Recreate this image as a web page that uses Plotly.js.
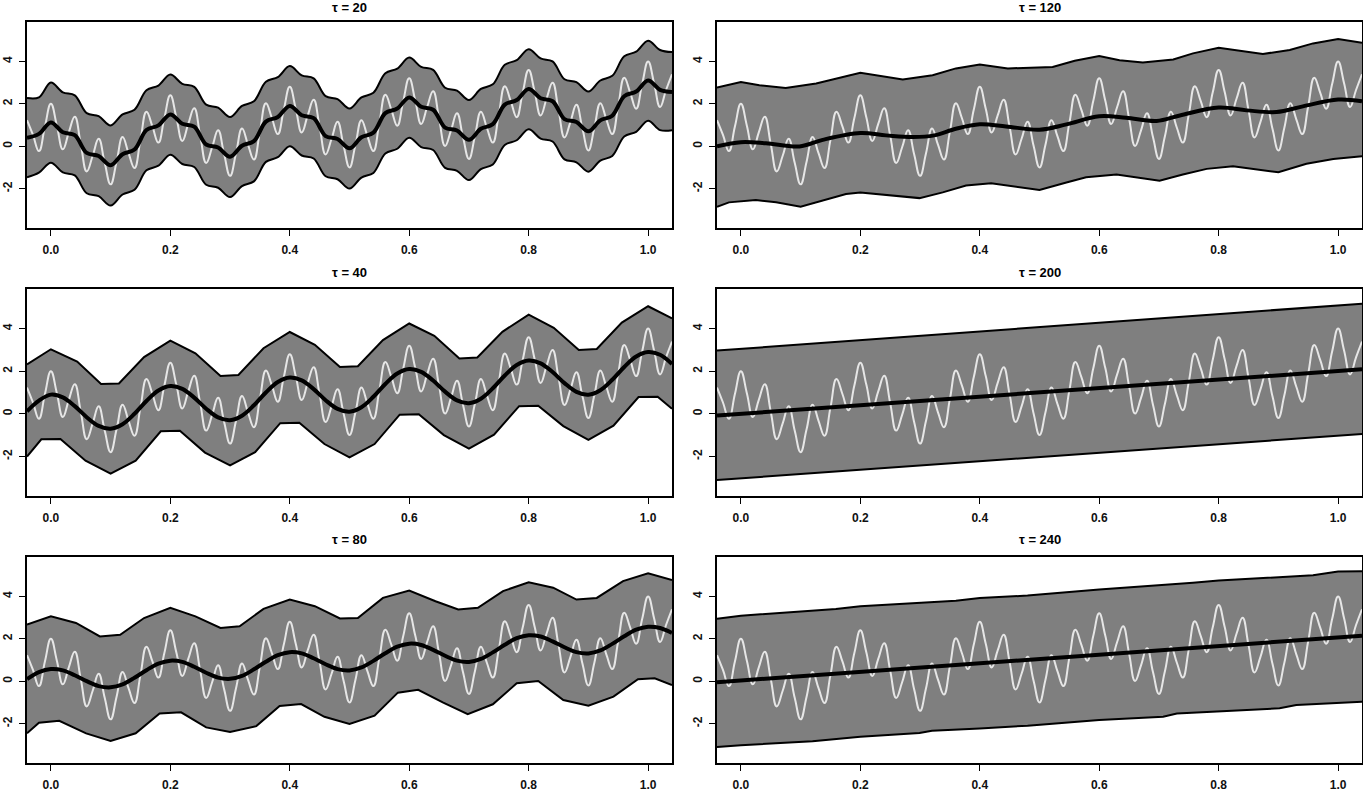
<!DOCTYPE html>
<html>
<head>
<meta charset="utf-8">
<script src="https://cdn.plot.ly/plotly-3.0.1.min.js"></script>
<style>html,body{margin:0;padding:0;background:#fff}#chart{width:1363px;height:791px}</style>
</head>
<body>
<div id="chart"></div>
<script>
// ---------- data ----------
const panelTitles = ["τ = 20", "τ = 120", "τ = 40", "τ = 200", "τ = 80", "τ = 240"];
const xTickVals = [0, 0.2, 0.4, 0.6, 0.8, 1.0];
const xTickText = ["0.0", "0.2", "0.4", "0.6", "0.8", "1.0"];
const yTickVals = [-2, 0, 2, 4];
const yTickText = ["-2", "0", "2", "4"];

// true signal (white curve), x from -0.04 to 1.04 in steps of 0.01
const truthY = [1.23, 0.53, -0.23, 0.93, 2.00, 0.97, -0.15, 0.65, 1.39, 0.10,
  -1.19, -0.45, 0.35, -0.77, -1.80, -0.73, 0.43, -0.33, -1.03, 0.30,
  1.63, 0.93, 0.17, 1.33, 2.40, 1.37, 0.25, 1.05, 1.79, 0.50,
  -0.79, -0.05, 0.75, -0.37, -1.40, -0.33, 0.83, 0.07, -0.63, 0.70,
  2.03, 1.33, 0.57, 1.73, 2.80, 1.77, 0.65, 1.45, 2.19, 0.90,
  -0.39, 0.35, 1.15, 0.03, -1.00, 0.07, 1.23, 0.47, -0.23, 1.10,
  2.43, 1.73, 0.97, 2.13, 3.20, 2.17, 1.05, 1.85, 2.59, 1.30,
  0.01, 0.75, 1.55, 0.43, -0.60, 0.47, 1.63, 0.87, 0.17, 1.50,
  2.83, 2.13, 1.37, 2.53, 3.60, 2.57, 1.45, 2.25, 2.99, 1.70,
  0.41, 1.15, 1.95, 0.83, -0.20, 0.87, 2.03, 1.27, 0.57, 1.90,
  3.23, 2.53, 1.77, 2.93, 4.00, 2.97, 1.85, 2.65, 3.39];

// tau = 20 : x from -0.04 to 1.04 in steps of 0.02
const t20Mean = [0.40, 0.58, 1.12, 0.66, 0.52, -0.32, -0.46, -0.90, -0.38, -0.16, 0.76, 0.98, 1.50, 1.06, 0.92, 0.08, -0.06, -0.50, 0.02, 0.24, 1.16, 1.38, 1.90, 1.46, 1.32, 0.48, 0.34, -0.10, 0.42, 0.64, 1.56, 1.78, 2.30, 1.86, 1.72, 0.88, 0.74, 0.30, 0.82, 1.04, 1.96, 2.18, 2.70, 2.26, 2.12, 1.28, 1.14, 0.70, 1.22, 1.44, 2.36, 2.58, 3.10, 2.66, 2.56];
const t20Upper = [2.27, 2.30, 3.00, 2.54, 2.40, 1.56, 1.42, 0.98, 1.50, 1.72, 2.64, 2.86, 3.38, 2.94, 2.80, 1.96, 1.82, 1.38, 1.90, 2.12, 3.04, 3.26, 3.78, 3.34, 3.20, 2.36, 2.22, 1.78, 2.30, 2.52, 3.44, 3.66, 4.18, 3.74, 3.60, 2.76, 2.62, 2.18, 2.70, 2.92, 3.84, 4.06, 4.58, 4.14, 4.00, 3.16, 3.02, 2.58, 3.10, 3.32, 4.24, 4.46, 4.98, 4.54, 4.44];
const t20Lower = [-1.47, -1.25, -0.78, -1.24, -1.38, -2.22, -2.36, -2.80, -2.28, -2.06, -1.14, -0.92, -0.40, -0.84, -0.98, -1.82, -1.96, -2.40, -1.88, -1.66, -0.74, -0.52, 0.00, -0.44, -0.58, -1.42, -1.56, -2.00, -1.48, -1.26, -0.34, -0.12, 0.40, -0.04, -0.18, -1.02, -1.16, -1.60, -1.08, -0.86, 0.06, 0.28, 0.80, 0.36, 0.22, -0.62, -0.76, -1.20, -0.68, -0.46, 0.46, 0.68, 1.20, 0.76, 0.75];

// tau = 40
const t40Mean = [0.12, 0.62, 0.90, 0.77, 0.36, -0.16, -0.57, -0.70, -0.49, 0.00, 0.60, 1.09, 1.30, 1.17, 0.76, 0.24, -0.17, -0.30, -0.09, 0.40, 1.00, 1.49, 1.70, 1.57, 1.16, 0.64, 0.23, 0.10, 0.31, 0.80, 1.40, 1.89, 2.10, 1.97, 1.56, 1.04, 0.63, 0.50, 0.71, 1.20, 1.80, 2.29, 2.50, 2.37, 1.96, 1.44, 1.03, 0.90, 1.11, 1.60, 2.20, 2.69, 2.90, 2.77, 2.34];
const t40UpperX = [-0.04, 0, 0.044, 0.084, 0.114, 0.156, 0.2, 0.242, 0.284, 0.314, 0.356, 0.4, 0.442, 0.484, 0.514, 0.556, 0.6, 0.642, 0.684, 0.714, 0.756, 0.8, 0.842, 0.884, 0.914, 0.956, 1.0, 1.04];
const t40Upper = [2.32, 3.03, 2.45, 1.40, 1.42, 2.66, 3.44, 2.84, 1.78, 1.82, 3.08, 3.84, 3.24, 2.20, 2.23, 3.46, 4.24, 3.66, 2.60, 2.64, 3.85, 4.66, 4.04, 3.00, 3.04, 4.28, 5.05, 4.48];
const t40LowerX = [-0.04, -0.016, 0.016, 0.058, 0.1, 0.142, 0.184, 0.216, 0.258, 0.3, 0.342, 0.384, 0.416, 0.458, 0.5, 0.542, 0.584, 0.616, 0.658, 0.7, 0.742, 0.784, 0.816, 0.858, 0.9, 0.942, 0.984, 1.016, 1.04];
const t40Lower = [-2.01, -1.20, -1.18, -2.20, -2.81, -2.20, -0.82, -0.80, -1.82, -2.42, -1.80, -0.44, -0.42, -1.42, -2.05, -1.42, -0.04, -0.02, -1.00, -1.63, -0.98, 0.36, 0.38, -0.58, -1.22, -0.56, 0.79, 0.80, 0.24];

// tau = 80
const t80Mean = [0.10, 0.43, 0.57, 0.51, 0.28, 0.00, -0.23, -0.29, -0.15, 0.16, 0.52, 0.83, 0.97, 0.91, 0.68, 0.40, 0.17, 0.11, 0.25, 0.56, 0.92, 1.23, 1.37, 1.31, 1.08, 0.80, 0.57, 0.51, 0.65, 0.96, 1.32, 1.63, 1.77, 1.71, 1.48, 1.20, 0.97, 0.91, 1.05, 1.36, 1.72, 2.03, 2.17, 2.11, 1.88, 1.60, 1.37, 1.31, 1.45, 1.76, 2.12, 2.43, 2.57, 2.51, 2.28];
const t80UpperX = [-0.04, 0, 0.042, 0.082, 0.116, 0.156, 0.2, 0.242, 0.284, 0.316, 0.356, 0.4, 0.442, 0.484, 0.514, 0.556, 0.6, 0.644, 0.682, 0.715, 0.757, 0.8, 0.841, 0.88, 0.914, 0.958, 1.0, 1.04];
const t80Upper = [2.67, 3.06, 2.75, 2.11, 2.19, 2.98, 3.46, 3.06, 2.51, 2.59, 3.41, 3.85, 3.54, 2.96, 2.98, 3.93, 4.28, 3.77, 3.38, 3.46, 4.25, 4.67, 4.41, 3.85, 3.93, 4.72, 5.09, 4.77];
const t80LowerX = [-0.04, -0.02, 0.014, 0.059, 0.1, 0.142, 0.182, 0.218, 0.26, 0.3, 0.344, 0.383, 0.419, 0.458, 0.5, 0.542, 0.581, 0.615, 0.657, 0.698, 0.74, 0.78, 0.816, 0.858, 0.9, 0.942, 0.983, 1.011, 1.04];
const t80Lower = [-2.46, -1.96, -1.87, -2.46, -2.82, -2.46, -1.52, -1.47, -2.18, -2.40, -2.12, -1.17, -1.08, -1.68, -2.02, -1.63, -0.54, -0.41, -1.01, -1.56, -1.09, -0.10, 0.01, -0.89, -1.16, -0.73, 0.09, 0.14, -0.18];

// tau = 120
const t120MeanX = [-0.04, 0, 0.042, 0.098, 0.137, 0.2, 0.243, 0.288, 0.324, 0.36, 0.4, 0.444, 0.5, 0.545, 0.6, 0.645, 0.696, 0.735, 0.8, 0.847, 0.897, 0.941, 1.0, 1.04];
const t120Mean = [-0.01, 0.19, 0.14, -0.01, 0.30, 0.62, 0.51, 0.43, 0.51, 0.82, 1.03, 0.93, 0.78, 1.03, 1.41, 1.34, 1.19, 1.45, 1.82, 1.69, 1.61, 1.88, 2.20, 2.12];
const t120UpperX = [-0.04, 0, 0.031, 0.075, 0.126, 0.2, 0.271, 0.321, 0.36, 0.4, 0.447, 0.522, 0.559, 0.6, 0.634, 0.673, 0.724, 0.757, 0.8, 0.835, 0.874, 0.919, 0.958, 1.0, 1.04];
const t120Upper = [2.77, 3.03, 2.88, 2.75, 2.96, 3.46, 3.15, 3.35, 3.67, 3.86, 3.67, 3.74, 4.03, 4.25, 4.06, 3.95, 4.09, 4.38, 4.64, 4.49, 4.35, 4.54, 4.85, 5.06, 4.88];
const t120LowerX = [-0.04, -0.02, 0.025, 0.059, 0.1, 0.137, 0.176, 0.2, 0.237, 0.299, 0.338, 0.377, 0.419, 0.48, 0.5, 0.545, 0.578, 0.629, 0.701, 0.74, 0.78, 0.824, 0.9, 0.947, 0.992, 1.04];
const t120Lower = [-2.86, -2.65, -2.54, -2.65, -2.86, -2.57, -2.26, -2.18, -2.29, -2.45, -2.18, -1.86, -1.75, -1.97, -2.07, -1.71, -1.47, -1.34, -1.63, -1.34, -1.07, -0.95, -1.23, -0.83, -0.60, -0.47];

// tau = 200
const t200X = [-0.04, 1.04];
const t200Mean = [-0.08, 2.09];
const t200Upper = [2.97, 5.17];
const t200Lower = [-3.11, -0.95];

// tau = 240
const t240MeanX = [-0.04, 1.04];
const t240Mean = [-0.05, 2.15];
const t240UpperX = [-0.04, 0, 0.159, 0.2, 0.36, 0.4, 0.48, 0.6, 0.757, 0.8, 0.958, 1.0, 1.04];
const t240Upper = [2.95, 3.09, 3.41, 3.54, 3.80, 3.93, 4.04, 4.33, 4.64, 4.75, 5.00, 5.17, 5.19];
const t240LowerX = [-0.04, 0, 0.12, 0.2, 0.299, 0.32, 0.4, 0.48, 0.6, 0.707, 0.73, 0.902, 0.93, 1.04];
const t240Lower = [-3.10, -3.02, -2.83, -2.62, -2.44, -2.34, -2.23, -2.10, -1.83, -1.68, -1.52, -1.28, -1.12, -0.97];

// ---------- helpers ----------
function grid(start, step, n) {
  const out = [];
  for (let i = 0; i < n; i++) out.push(Math.round((start + i * step) * 1000) / 1000);
  return out;
}
const xFine = grid(-0.04, 0.01, truthY.length);
const xMid = grid(-0.04, 0.02, t20Mean.length);

const panels = [
  {title: panelTitles[0], lower: [xMid, t20Lower], upper: [xMid, t20Upper], mean: [xMid, t20Mean], bandShape: "spline", meanShape: "spline"},
  {title: panelTitles[1], lower: [t120LowerX, t120Lower], upper: [t120UpperX, t120Upper], mean: [t120MeanX, t120Mean], bandShape: "linear", meanShape: "spline"},
  {title: panelTitles[2], lower: [t40LowerX, t40Lower], upper: [t40UpperX, t40Upper], mean: [xMid, t40Mean], bandShape: "linear", meanShape: "spline"},
  {title: panelTitles[3], lower: [t200X, t200Lower], upper: [t200X, t200Upper], mean: [t200X, t200Mean], bandShape: "linear", meanShape: "linear"},
  {title: panelTitles[4], lower: [t80LowerX, t80Lower], upper: [t80UpperX, t80Upper], mean: [xMid, t80Mean], bandShape: "linear", meanShape: "spline"},
  {title: panelTitles[5], lower: [t240LowerX, t240Lower], upper: [t240UpperX, t240Upper], mean: [t240MeanX, t240Mean], bandShape: "linear", meanShape: "linear"}
];

// ---------- layout geometry ----------
const W = 1363, H = 791;
const colPx = [[27, 672], [717, 1362]];
const rowPx = [[22, 228], [289, 496], [557, 763]];
const titleOffset = [14, 17, 17];
const FONT = "Liberation Sans, Arial, Helvetica, sans-serif";

const traces = [];
const layout = {
  width: W, height: H,
  margin: {l: 0, r: 0, t: 0, b: 0},
  paper_bgcolor: "#ffffff", plot_bgcolor: "#ffffff",
  showlegend: false,
  font: {family: FONT, color: "#000", size: 12},
  annotations: []
};

panels.forEach((p, i) => {
  const r = Math.floor(i / 2), c = i % 2;
  const n = i + 1;
  const xa = "x" + (n === 1 ? "" : n), ya = "y" + (n === 1 ? "" : n);
  const xKey = "xaxis" + (n === 1 ? "" : n), yKey = "yaxis" + (n === 1 ? "" : n);
  const dx = [colPx[c][0] / W, colPx[c][1] / W];
  const dy = [1 - rowPx[r][1] / H, 1 - rowPx[r][0] / H];

  layout[xKey] = {
    domain: dx, anchor: ya, range: [-0.04, 1.04],
    tickmode: "array", tickvals: xTickVals, ticktext: xTickText,
    ticks: "outside", ticklen: 6, tickwidth: 1.2, tickcolor: "#000",
    ticklabelstandoff: 4,
    showline: true, mirror: true, linecolor: "#000", linewidth: 1.6,
    showgrid: false, zeroline: false,
    tickfont: {family: FONT, size: 12, color: "#111", weight: "bold"}
  };
  layout[yKey] = {
    domain: dy, anchor: xa, range: [-3.86, 5.86],
    tickmode: "array", tickvals: yTickVals, ticktext: yTickText,
    tickangle: -90,
    ticks: "outside", ticklen: 6, tickwidth: 1.2, tickcolor: "#000",
    ticklabelstandoff: 3,
    showline: true, mirror: true, linecolor: "#000", linewidth: 1.6,
    showgrid: false, zeroline: false,
    tickfont: {family: FONT, size: 12, color: "#111", weight: "bold"}
  };

  // band fill
  traces.push({x: p.lower[0], y: p.lower[1], xaxis: xa, yaxis: ya, mode: "lines",
    line: {width: 0, shape: p.bandShape}, hoverinfo: "skip"});
  traces.push({x: p.upper[0], y: p.upper[1], xaxis: xa, yaxis: ya, mode: "lines",
    line: {width: 0, shape: p.bandShape}, fill: "tonexty", fillcolor: "#7f7f7f", hoverinfo: "skip"});
  // band edges
  traces.push({x: p.lower[0], y: p.lower[1], xaxis: xa, yaxis: ya, mode: "lines",
    line: {color: "#000", width: 2, shape: p.bandShape}});
  traces.push({x: p.upper[0], y: p.upper[1], xaxis: xa, yaxis: ya, mode: "lines",
    line: {color: "#000", width: 2, shape: p.bandShape}});
  // true signal
  traces.push({x: xFine, y: truthY, xaxis: xa, yaxis: ya, mode: "lines",
    line: {color: "#e6e6e6", width: 2, shape: "spline", smoothing: 1.3}});
  // estimate
  traces.push({x: p.mean[0], y: p.mean[1], xaxis: xa, yaxis: ya, mode: "lines",
    line: {color: "#000", width: 4, shape: p.meanShape}});

  layout.annotations.push({
    xref: "paper", yref: "paper",
    x: (dx[0] + dx[1]) / 2, y: dy[1] + titleOffset[r] / H,
    xanchor: "center", yanchor: "middle", showarrow: false,
    text: p.title, font: {family: FONT, size: 13, color: "#000", weight: "bold"}
  });
});

Plotly.newPlot("chart", traces, layout, {displayModeBar: false, staticPlot: true});
</script>
</body>
</html>
